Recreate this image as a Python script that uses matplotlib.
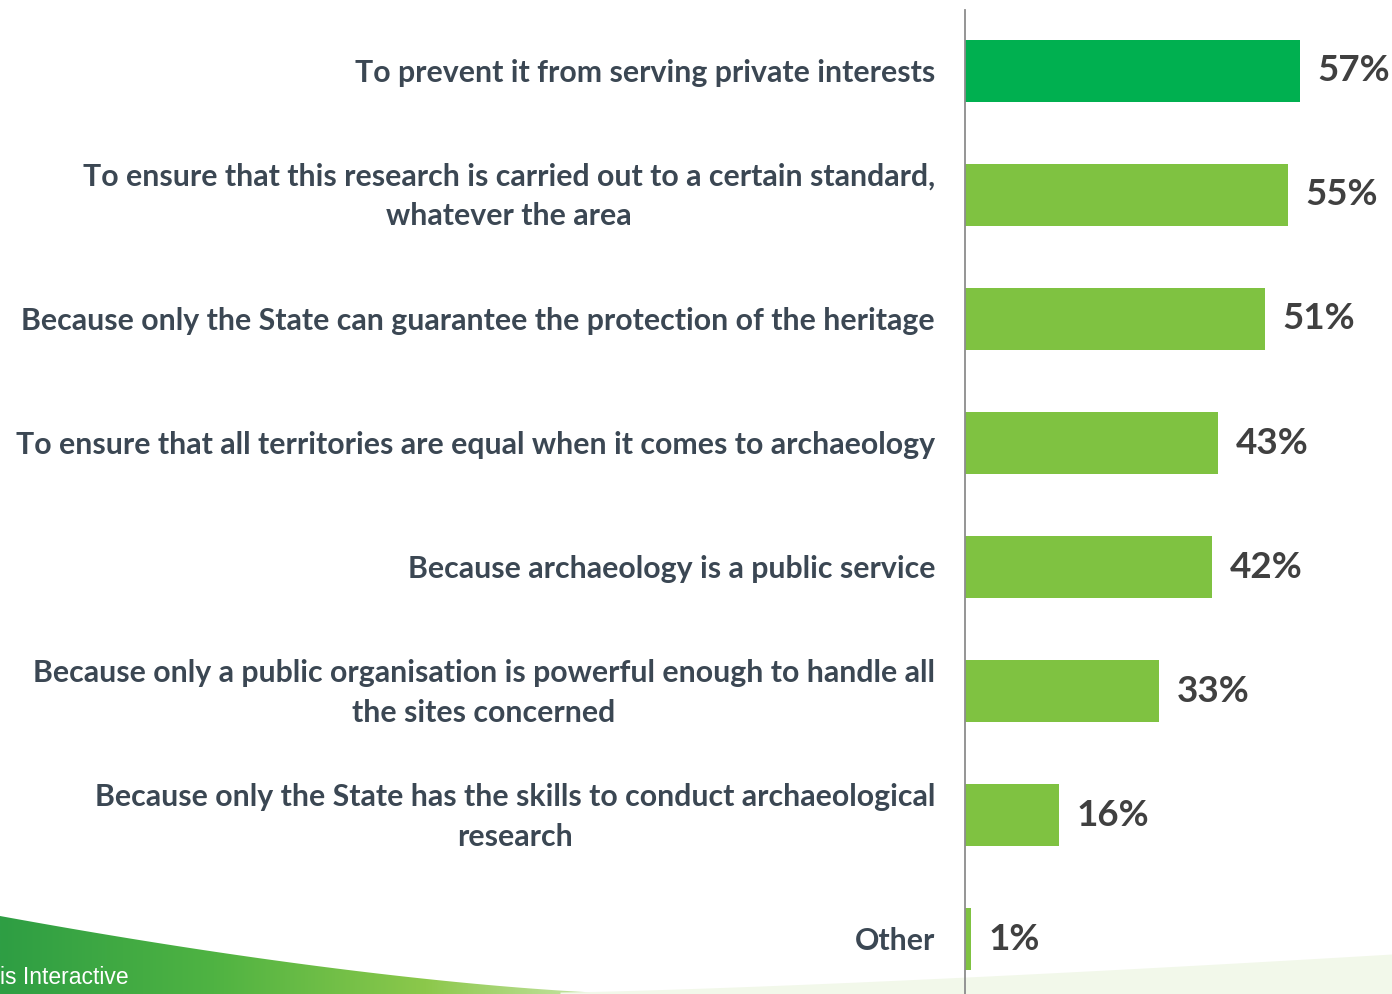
import numpy as np
import matplotlib.pyplot as plt
from matplotlib.patches import Polygon
from matplotlib.colors import LinearSegmentedColormap

# chart data
labels = [
    "To prevent it from serving private interests",
    "To ensure that this research is carried out to a certain standard,\nwhatever the area",
    "Because only the State can guarantee the protection of the heritage",
    "To ensure that all territories are equal when it comes to archaeology",
    "Because archaeology is a public service",
    "Because only a public organisation is powerful enough to handle all\nthe sites concerned",
    "Because only the State has the skills to conduct archaeological\nresearch",
    "Other",
]
values = [57, 55, 51, 43, 42, 33, 16, 1]
bar_colors = ["#00b050"] + ["#7fc241"] * 7

W, H = 1392, 994
fig = plt.figure(figsize=(W / 100, H / 100), dpi=100)

# background swoosh (decoration), pixel coordinates
bg = fig.add_axes([0, 0, 1, 1], zorder=0)
bg.set_xlim(0, W)
bg.set_ylim(H, 0)
bg.axis("off")
xs = np.linspace(0, 640, 60)
top = 916 + 78 * (1 - (1 - xs / 640) ** 1.5)
poly = np.vstack([np.column_stack([xs, top]), [[640, H], [0, H]]])
grad = np.linspace(0, 1, 256)[None, :]
cmap = LinearSegmentedColormap.from_list("g", ["#2e9e44", "#4fb342", "#8cc84b", "#d8ecc0"])
im = bg.imshow(grad, extent=[0, 640, H, 912], cmap=cmap, aspect="auto")
patch = Polygon(poly, closed=True, transform=bg.transData, facecolor="none", edgecolor="none")
bg.add_patch(patch)
im.set_clip_path(patch)
# faint band on the right
xs2 = np.linspace(560, W, 60)
top2 = 992 - 38 * ((xs2 - 560) / (W - 560)) ** 1.3
bg.fill_between(xs2, top2, H, color="#f2f8ea", lw=0)
bg.text(0, 977, "is Interactive", color="white", fontsize=16.5, family="Liberation Sans",
        va="center", ha="left")

ax = fig.add_axes([965 / W, 0, 1 - 965 / W, 1 - 10 / H], zorder=1)
ax.patch.set_alpha(0)
y = np.arange(len(values))
ax.barh(y, values, height=0.5, color=bar_colors)
ax.set_xlim(0, (W - 965) / 5.877)
ax.set_ylim(7.44, -0.49)

for yi, v, lab in zip(y, values, labels):
    ax.text(v + 3.0, yi, f"{v}%", va="center", ha="left", fontsize=26.5,
            fontweight="bold", color="#404040", family="Lato")
    ax.text(-5.1, yi + 0.015, lab, va="center", ha="right", fontsize=21.8, fontweight="bold",
            color="#3b4753", family="Lato", linespacing=1.5, multialignment="center")

for s in ["top", "right", "bottom"]:
    ax.spines[s].set_visible(False)
ax.spines["left"].set_color("#8c8c8c")
ax.spines["left"].set_linewidth(1.3)
ax.set_xticks([])
ax.set_yticks([])

fig.savefig("out.png", dpi=100)
